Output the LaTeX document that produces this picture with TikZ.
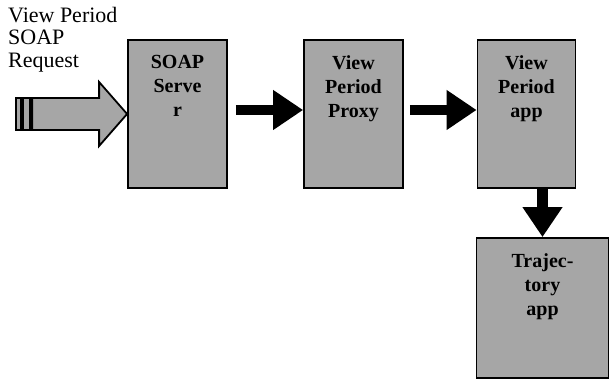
\documentclass[tikz,border=0pt]{standalone}
\usepackage{fontspec}
\setmainfont{Liberation Serif}
\usetikzlibrary{arrows.meta, positioning}
\tikzset{
  proc/.style={
    rectangle,
    minimum width=99pt,
    minimum height=148pt,
    inner sep=0pt,
    fill=black!35,
    draw=black,
    line width=1.8pt
  },
  proctext/.style={
    align=center,
    inner sep=0pt,
    font=\fontsize{20}{24}\selectfont\bfseries
  },
  arrow/.style={
    line width=10.5pt,
    -{Triangle[length=30pt,width=38pt]}
  },
  inarrow/.style={
    fill=black!35,
    draw=black,
    line width=1.8pt,
    line join=miter
  }
}

\begin{document}
\begin{tikzpicture}[x=1pt,y=1pt]
      \useasboundingbox (0,0) rectangle (610,380);
      \node (req) [anchor=north west, inner sep=0pt, align=left,
        font=\fontsize{22}{22.5}\selectfont] at (8,373)
        {View Period\\SOAP\\Request};
      \node (srv) [proc] at (177.5,266) {};
      \node (proxy) [proc] at (353.5,266) {};
      \node (app) [proc, minimum width=98pt] at (526.5,266) {};
      \node (traj) [proc, minimum width=132pt, minimum height=140pt] at (542.5,72) {};
      % texts, top aligned
      \node (srvtxt) [proctext, below=16pt of srv.north] {SOAP\\Serve\\r};
      \node (proxytxt) [proctext, below=16pt of proxy.north] {View\\Period\\Proxy};
      \node (apptxt) [proctext, below=16pt of app.north] {View\\Period\\app};
      \node (trajtxt) [proctext, below=16pt of traj.north] {Trajec-\\tory\\app};
      % incoming request
      \draw[inarrow] (srv.west) -- ++(-28,32) -- ++(0,-16) -- ++(-67,0)
        -- ++(0,-32) -- ++(67,0) -- ++(0,-16) -- cycle;
      \draw[inarrow] ([xshift=-111pt,yshift=-16pt]srv.west) rectangle ++(5,32);
      \draw[inarrow] ([xshift=-104pt,yshift=-16pt]srv.west) rectangle ++(7,32);
      % flow
      \draw[arrow, shorten <=8pt] ([yshift=4pt]srv.east) -- ([yshift=4pt]proxy.west);
      \draw[arrow, shorten <=6pt] ([yshift=4pt]proxy.east) -- ([yshift=4pt]app.west);
      \draw[arrow] (traj.north |- app.south) -- (traj.north);
\end{tikzpicture}
\end{document}
